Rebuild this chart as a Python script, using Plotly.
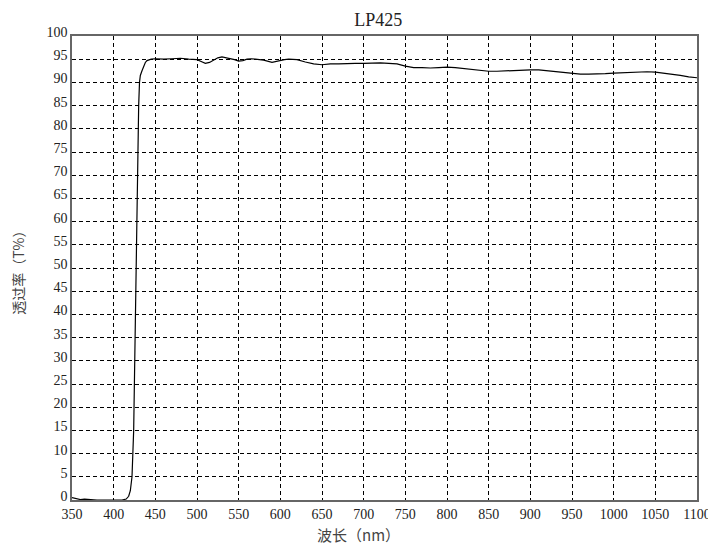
import plotly.graph_objects as go

wavelength = [350, 355, 360, 365, 370, 375, 380, 390, 400, 410, 415, 418, 420, 422, 424, 426, 428, 430, 431,
              432, 434, 436, 438, 440, 445, 450, 460, 470, 480, 490, 500, 505, 510, 515, 520, 525, 530, 535,
              540, 545, 550, 555, 560, 565, 570, 580, 590, 595, 600, 605, 610, 620, 630, 640, 650, 660, 670,
              680, 690, 700, 710, 720, 730, 740, 750, 760, 770, 780, 790, 800, 810, 820, 830, 840, 850, 860,
              870, 880, 890, 900, 910, 920, 930, 940, 950, 960, 970, 980, 990, 1000, 1010, 1020, 1030, 1040,
              1050, 1060, 1070, 1080, 1090, 1100]
transmittance = [0.5, 0.3, 0.1, 0.2, 0.1, 0.05, 0.0, 0.0, 0.0, 0.0, 0.2, 0.8, 2.0, 5.0, 15.0, 40.0, 65.0, 85.0, 90.0,
                 91.5, 92.5, 93.5, 94.3, 94.7, 95.0, 95.1, 95.0, 95.1, 95.2, 95.0, 94.9, 94.5, 94.1, 94.3, 94.8, 95.3, 95.5, 95.3,
                 95.2, 94.9, 94.6, 94.7, 95.0, 95.1, 95.0, 94.8, 94.3, 94.5, 94.8, 94.9, 95.0, 94.9, 94.4, 94.0, 93.8, 94.0, 94.0,
                 94.1, 94.1, 94.1, 94.2, 94.2, 94.1, 94.0, 93.5, 93.2, 93.2, 93.1, 93.2, 93.3, 93.2, 93.0, 92.8, 92.6, 92.4, 92.4,
                 92.5, 92.5, 92.6, 92.7, 92.7, 92.5, 92.3, 92.1, 91.9, 91.8, 91.8, 91.8, 91.9, 92.0, 92.1, 92.2, 92.3, 92.3,
                 92.2, 92.0, 91.7, 91.5, 91.2, 91.0]

x_ticks = list(range(350, 1101, 50))
y_ticks = list(range(0, 101, 5))

title_text = "LP425"
x_title = "波长（nm）"
y_title = "透过率（T%）"

serif = "Liberation Serif, Times New Roman, serif"
cjk = "Noto Sans CJK SC"

fig = go.Figure()
fig.add_trace(go.Scatter(x=wavelength, y=transmittance, mode="lines",
                         line=dict(color="black", width=1.2), showlegend=False))

fig.update_layout(
    width=708, height=536,
    margin=dict(l=64, r=19, t=28, b=44, autoexpand=False),
    paper_bgcolor="white", plot_bgcolor="white",
    title=dict(text=title_text, x=0.523, xanchor="center", y=0.978, yanchor="middle",
               font=dict(family=serif, size=18, color="#222")),
    font=dict(family=serif, size=14, color="#222"),
    annotations=[
        dict(text=x_title, xref="paper", yref="paper", x=0.458, y=-0.075,
             xanchor="center", yanchor="middle", showarrow=False,
             font=dict(family=cjk, size=15, color="#444")),
        dict(text=y_title, xref="paper", yref="paper", x=-0.0864, y=0.496,
             xanchor="center", yanchor="middle", showarrow=False, textangle=-90,
             font=dict(family=cjk, size=14, color="#444")),
    ],
)
fig.update_xaxes(range=[350, 1100], tickvals=x_ticks, ticktext=[str(v) for v in x_ticks],
                 showgrid=True, gridcolor="black", griddash="4px,3px", gridwidth=1,
                 showline=True, linecolor="#666", linewidth=1.5, mirror=True,
                 ticks="", ticklen=0, zeroline=False, automargin=False,
                 tickfont=dict(family=serif, size=14, color="#222"))
fig.update_yaxes(range=[0, 100], tickvals=y_ticks, ticktext=[str(v) for v in y_ticks],
                 showgrid=True, gridcolor="black", griddash="4px,3px", gridwidth=1,
                 showline=True, linecolor="#666", linewidth=1.5, mirror=True,
                 ticks="", ticklen=0, zeroline=False, automargin=False, ticklabelshift=-4,
                 tickfont=dict(family=serif, size=14, color="#222"))

fig.write_html("out.html")
